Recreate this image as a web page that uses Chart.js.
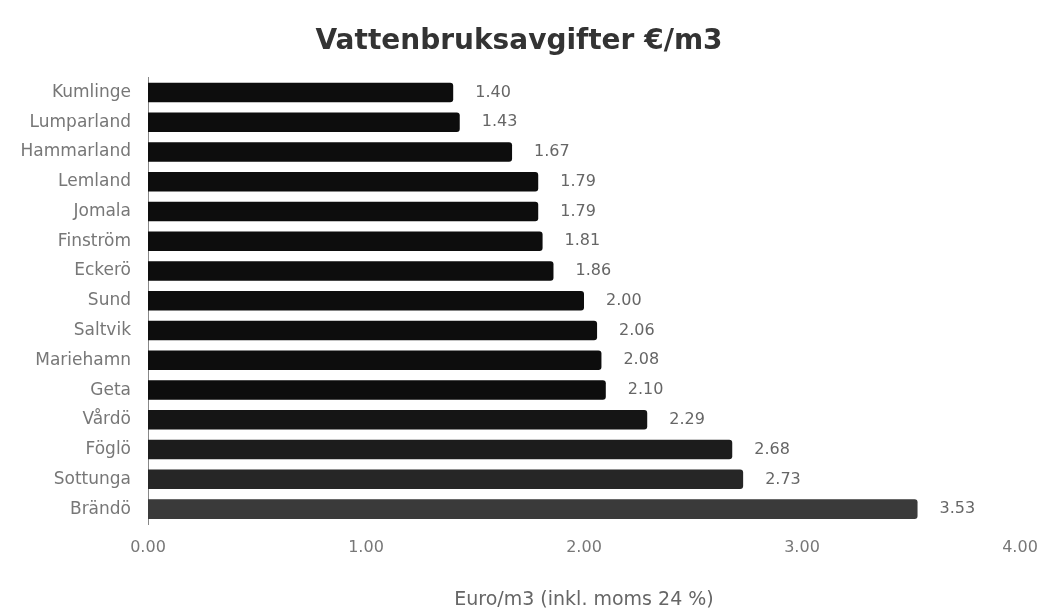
<!DOCTYPE html>
<html>
<head>
<meta charset="utf-8">
<script src="https://cdn.jsdelivr.net/npm/chart.js@4"></script>
<style>
html,body{margin:0;padding:0;background:#fff;}
#wrap{width:1038px;height:615px;}
</style>
</head>
<body>
<div id="wrap"><canvas id="c" width="1038" height="615"></canvas></div>
<script>
const categories = ["Kumlinge","Lumparland","Hammarland","Lemland","Jomala","Finström","Eckerö","Sund","Saltvik","Mariehamn","Geta","Vårdö","Föglö","Sottunga","Brändö"];
const values = [1.40,1.43,1.67,1.79,1.79,1.81,1.86,2.00,2.06,2.08,2.10,2.29,2.68,2.73,3.53];
const barColors = ["#0d0d0d","#0d0d0d","#0d0d0d","#0d0d0d","#0d0d0d","#0d0d0d","#0d0d0d","#0d0d0d","#0d0d0d","#0d0d0d","#0d0d0d","#151515","#1c1c1c","#262626","#3a3a3a"];
const xTickLabels = ["0.00","1.00","2.00","3.00","4.00"];
const titleText = "Vattenbruksavgifter €/m3";
const xAxisTitle = "Euro/m3 (inkl. moms 24 %)";

const FONT = '"DejaVu Sans", sans-serif';

const valueLabels = {
  id: 'valueLabels',
  afterDatasetsDraw(chart) {
    const ctx = chart.ctx;
    const meta = chart.getDatasetMeta(0);
    ctx.save();
    ctx.font = '16px ' + FONT;
    ctx.fillStyle = '#666';
    ctx.textAlign = 'left';
    ctx.textBaseline = 'middle';
    meta.data.forEach((bar, i) => {
      ctx.fillText(values[i].toFixed(2), bar.x + 22, bar.y);
    });
    ctx.restore();
  }
};

new Chart(document.getElementById('c'), {
  type: 'bar',
  data: {
    labels: categories,
    datasets: [{
      data: values,
      backgroundColor: barColors,
      borderRadius: 3,
      borderSkipped: 'start',
      barPercentage: 0.8,
      categoryPercentage: 0.82
    }]
  },
  options: {
    indexAxis: 'y',
    responsive: false,
    animation: false,
    layout: { padding: { left: 0, right: 0, bottom: 0 } },
    plugins: {
      legend: { display: false },
      tooltip: { enabled: false },
      title: {
        display: true,
        text: titleText,
        color: '#333',
        font: { family: FONT, size: 28, weight: 'bold' },
        padding: { top: 25, bottom: 19 }
      }
    },
    scales: {
      x: {
        min: 0,
        max: 4,
        afterFit(scale) { scale.paddingRight = 18; },
        grid: { display: false, drawTicks: false },
        border: { display: false },
        ticks: {
          stepSize: 1,
          color: '#777',
          padding: 14,
          font: { family: FONT, size: 16 },
          callback: (v, i) => xTickLabels[i]
        },
        title: {
          display: true,
          text: xAxisTitle,
          color: '#666',
          padding: { top: 17, bottom: 4 },
          font: { family: FONT, size: 19 }
        }
      },
      y: {
        afterFit(scale) { scale.width = 148; },
        grid: { display: false },
        border: { display: true, color: '#888' },
        ticks: {
          color: '#777',
          padding: 9,
          font: { family: FONT, size: 17 }
        }
      }
    }
  },
  plugins: [valueLabels]
});
</script>
</body>
</html>
